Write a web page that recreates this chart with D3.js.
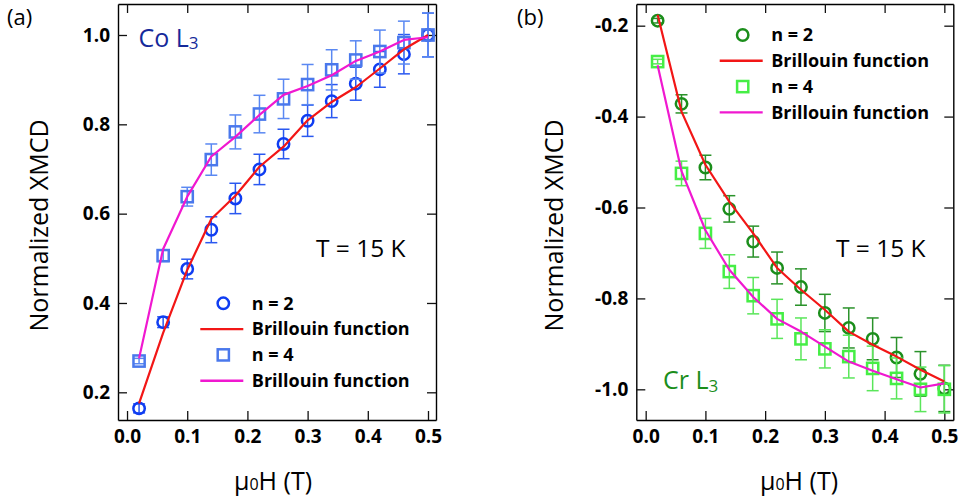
<!DOCTYPE html>
<html>
<head>
<meta charset="utf-8">
<script src="https://cdn.jsdelivr.net/npm/d3@7"></script>
<style>
  html, body { margin: 0; padding: 0; background: #ffffff; }
  svg { display: block; font-family: "Open Sans", "Noto Sans", sans-serif; }
</style>
</head>
<body>
<svg id="chart" width="962" height="502"></svg>
<script>
// Applied field values (T)
const fieldT = [0.02, 0.06, 0.10, 0.14, 0.18, 0.22, 0.26, 0.30, 0.34, 0.38, 0.42, 0.46, 0.50];

// Co L3 edge, normalized XMCD
const coN2     = [0.164, 0.357, 0.476, 0.564, 0.634, 0.699, 0.756, 0.808, 0.852, 0.891, 0.923, 0.957, 1.000];
const coN2Err  = [0.010, 0.012, 0.022, 0.029, 0.034, 0.034, 0.033, 0.035, 0.037, 0.037, 0.040, 0.044, 0.049];
const coN2Fit  = [0.175, 0.333, 0.474, 0.588, 0.640, 0.705, 0.750, 0.809, 0.850, 0.883, 0.925, 0.968, 1.000];
const coN4     = [0.270, 0.506, 0.638, 0.721, 0.783, 0.823, 0.857, 0.889, 0.922, 0.944, 0.963, 0.983, 1.000];
const coN4Err  = [0.006, 0.013, 0.021, 0.035, 0.038, 0.042, 0.044, 0.045, 0.045, 0.043, 0.048, 0.048, 0.049];
const coN4Fit  = [0.276, 0.521, 0.638, 0.728, 0.772, 0.821, 0.866, 0.886, 0.910, 0.942, 0.963, 0.989, 0.995];

// Cr L3 edge, normalized XMCD
const crN2     = [-0.189, -0.372, -0.512, -0.603, -0.675, -0.733, -0.775, -0.832, -0.865, -0.889, -0.930, -0.966, -0.998];
const crN2Err  = [0.005, 0.020, 0.027, 0.029, 0.034, 0.035, 0.040, 0.041, 0.044, 0.046, 0.044, 0.049, 0.051];
const crN2Fit  = [-0.176, -0.389, -0.506, -0.587, -0.657, -0.733, -0.781, -0.825, -0.873, -0.902, -0.928, -0.957, -0.983];
const crN4     = [-0.279, -0.525, -0.657, -0.741, -0.794, -0.845, -0.889, -0.911, -0.928, -0.954, -0.976, -1.000, -1.000];
const crN4Err  = [0.005, 0.027, 0.033, 0.037, 0.040, 0.043, 0.046, 0.042, 0.047, 0.049, 0.045, 0.049, 0.052];
const crN4Fit  = [-0.287, -0.520, -0.650, -0.737, -0.797, -0.845, -0.873, -0.906, -0.939, -0.959, -0.978, -0.996, -0.987];

// Tick values and labels
const xTicks       = [0.0, 0.1, 0.2, 0.3, 0.4, 0.5];
const xTickLabels  = ["0.0", "0.1", "0.2", "0.3", "0.4", "0.5"];
const coTicks      = [0.2, 0.4, 0.6, 0.8, 1.0];
const coTickLabels = ["0.2", "0.4", "0.6", "0.8", "1.0"];
const crTicks      = [-1.0, -0.8, -0.6, -0.4, -0.2];
const crTickLabels = ["-1.0", "-0.8", "-0.6", "-0.4", "-0.2"];

// Legend entries
const legendLabels = ["n = 2", "Brillouin function", "n = 4", "Brillouin function"];

const svg = d3.select("#chart");

function drawPanel(p) {
  const g = svg.append("g");
  const x = d3.scaleLinear().domain(p.xDomain).range([p.left, p.right]);
  const y = d3.scaleLinear().domain(p.yDomain).range([p.bottom, p.top]);

  const fmtX = d => xTickLabels[xTicks.indexOf(d)];
  const fmtY = d => p.yTickLabels[p.yTicks.indexOf(d)];

  const styleAxis = sel => {
    sel.attr("font-family", null).attr("font-size", null);
    sel.select(".domain").attr("stroke", "#000").attr("stroke-width", 1.4);
    sel.selectAll(".tick line").attr("stroke", "#111").attr("stroke-width", 1.3);
    sel.selectAll(".tick text")
      .attr("fill", "#000")
      .style("font-size", "19px")
      .style("font-weight", "700");
  };

  g.append("g").attr("transform", `translate(0,${p.bottom})`)
    .call(d3.axisBottom(x).tickValues(xTicks).tickFormat(fmtX)
      .tickSizeInner(-9).tickSizeOuter(0).tickPadding(10))
    .call(styleAxis);
  g.append("g").attr("transform", `translate(0,${p.top})`)
    .call(d3.axisTop(x).tickValues(xTicks).tickFormat("")
      .tickSizeInner(-9).tickSizeOuter(0))
    .call(styleAxis);
  g.append("g").attr("transform", `translate(${p.left},0)`)
    .call(d3.axisLeft(y).tickValues(p.yTicks).tickFormat(fmtY)
      .tickSizeInner(-9).tickSizeOuter(0).tickPadding(8))
    .call(styleAxis);
  g.append("g").attr("transform", `translate(${p.right},0)`)
    .call(d3.axisRight(y).tickValues(p.yTicks).tickFormat("")
      .tickSizeInner(-9).tickSizeOuter(0))
    .call(styleAxis);

  // error bars and open markers for each measured series
  p.series.forEach(s => {
    const pts = fieldT.map((f, i) => ({ f, v: s.values[i], e: s.errors[i] }));
    const eb = g.append("g")
      .attr("stroke", s.errColor).attr("stroke-width", 1.5).attr("fill", "none");
    const cap = 6;
    eb.selectAll("line.v").data(pts).join("line").attr("class", "v")
      .attr("x1", d => x(d.f)).attr("x2", d => x(d.f))
      .attr("y1", d => y(d.v - d.e)).attr("y2", d => y(d.v + d.e));
    eb.selectAll("line.lo").data(pts).join("line").attr("class", "lo")
      .attr("x1", d => x(d.f) - cap).attr("x2", d => x(d.f) + cap)
      .attr("y1", d => y(d.v - d.e)).attr("y2", d => y(d.v - d.e));
    eb.selectAll("line.hi").data(pts).join("line").attr("class", "hi")
      .attr("x1", d => x(d.f) - cap).attr("x2", d => x(d.f) + cap)
      .attr("y1", d => y(d.v + d.e)).attr("y2", d => y(d.v + d.e));

    const mk = g.append("g")
      .attr("stroke", s.color).attr("stroke-width", 2.5).attr("fill", "none");
    if (s.shape === "circle") {
      mk.selectAll("circle").data(pts).join("circle")
        .attr("cx", d => x(d.f)).attr("cy", d => y(d.v)).attr("r", 5.7);
    } else {
      mk.selectAll("rect").data(pts).join("rect")
        .attr("x", d => x(d.f) - 5.6).attr("y", d => y(d.v) - 5.6)
        .attr("width", 11.2).attr("height", 11.2);
    }
  });

  // Brillouin function curves
  const line = d3.line().x(d => x(d.f)).y(d => y(d.v));
  p.series.forEach(s => {
    g.append("path")
      .datum(fieldT.map((f, i) => ({ f, v: s.fit[i] })))
      .attr("d", line)
      .attr("fill", "none")
      .attr("stroke", s.fitColor)
      .attr("stroke-width", 2.2)
      .attr("stroke-linejoin", "round");
  });

  // legend
  const lg = g.append("g").attr("transform", `translate(${p.legend[0]},${p.legend[1]})`);
  const rowH = 25.8;
  const entries = [
    { kind: "marker", s: p.series[0] },
    { kind: "line", s: p.series[0] },
    { kind: "marker", s: p.series[1] },
    { kind: "line", s: p.series[1] }
  ];
  entries.forEach((en, i) => {
    const cy = i * rowH;
    if (en.kind === "marker") {
      if (en.s.shape === "circle") {
        lg.append("circle").attr("cx", 0).attr("cy", cy).attr("r", 5.7)
          .attr("fill", "none").attr("stroke", en.s.color).attr("stroke-width", 2.5);
      } else {
        lg.append("rect").attr("x", -5.6).attr("y", cy - 5.6)
          .attr("width", 11.2).attr("height", 11.2)
          .attr("fill", "none").attr("stroke", en.s.color).attr("stroke-width", 2.5);
      }
    } else {
      lg.append("line").attr("x1", -23).attr("x2", 20).attr("y1", cy).attr("y2", cy)
        .attr("stroke", en.s.fitColor).attr("stroke-width", 2.4);
    }
    lg.append("text").attr("x", 28.5).attr("y", cy + 6.2)
      .style("font-size", "18px").style("font-weight", "700").attr("fill", "#000")
      .text(legendLabels[i]);
  });

  // panel letter
  g.append("text").attr("x", p.letterPos[0]).attr("y", p.letterPos[1])
    .style("font-size", "22px").attr("fill", "#000").text(p.letter);

  // edge label with subscript
  const el = g.append("text").attr("x", p.edgePos[0]).attr("y", p.edgePos[1])
    .style("font-size", "25px").attr("fill", p.edgeColor);
  el.append("tspan").text(p.edge);
  el.append("tspan").attr("dy", "0.13em").style("font-size", "17px").text("3");

  // temperature note
  g.append("text").attr("x", p.tempPos[0]).attr("y", p.tempPos[1])
    .style("font-size", "24.5px").attr("fill", "#000").text("T = 15 K");

  // axis titles
  const xt = g.append("text").attr("x", p.xTitle[0]).attr("y", p.xTitle[1])
    .attr("text-anchor", "middle").style("font-size", "25px").attr("fill", "#000");
  xt.append("tspan").text("μ");
  xt.append("tspan").style("font-size", "16px").text("0");
  xt.append("tspan").text("H (T)");

  g.append("text")
    .attr("transform", `translate(${p.yTitle[0]},${p.yTitle[1]}) rotate(-90)`)
    .attr("text-anchor", "middle").style("font-size", "25px").attr("fill", "#000")
    .text("Normalized XMCD");
}

drawPanel({
  left: 118, right: 436, top: 4, bottom: 420,
  xDomain: [-0.0150, 0.5133], yDomain: [0.138, 1.0694],
  yTicks: coTicks, yTickLabels: coTickLabels,
  series: [
    { values: coN2, errors: coN2Err, fit: coN2Fit, shape: "circle",
      color: "#0f3df2", errColor: "#2a58f0", fitColor: "#f21616" },
    { values: coN4, errors: coN4Err, fit: coN4Fit, shape: "square",
      color: "#4a78ec", errColor: "#5a88f2", fitColor: "#f018d0" }
  ],
  legend: [223.3, 303.3],
  letter: "(a)", letterPos: [7, 25],
  edge: "Co L", edgePos: [138.5, 46.7], edgeColor: "#15299a",
  tempPos: [316, 257],
  xTitle: [273, 490], yTitle: [48, 225.5]
});

drawPanel({
  left: 636.3, right: 953.3, top: 4, bottom: 420,
  xDomain: [-0.0157, 0.5150], yDomain: [-1.0675, -0.1523],
  yTicks: crTicks, yTickLabels: crTickLabels,
  series: [
    { values: crN2, errors: crN2Err, fit: crN2Fit, shape: "circle",
      color: "#1b8e1b", errColor: "#2a922a", fitColor: "#f21616" },
    { values: crN4, errors: crN4Err, fit: crN4Fit, shape: "square",
      color: "#45ee45", errColor: "#5ae65a", fitColor: "#f018d0" }
  ],
  legend: [742.7, 35],
  letter: "(b)", letterPos: [517, 25],
  edge: "Cr L", edgePos: [663, 389.3], edgeColor: "#1b8e1b",
  tempPos: [836, 257.3],
  xTitle: [799, 490], yTitle: [563, 225.5]
});
</script>
</body>
</html>
